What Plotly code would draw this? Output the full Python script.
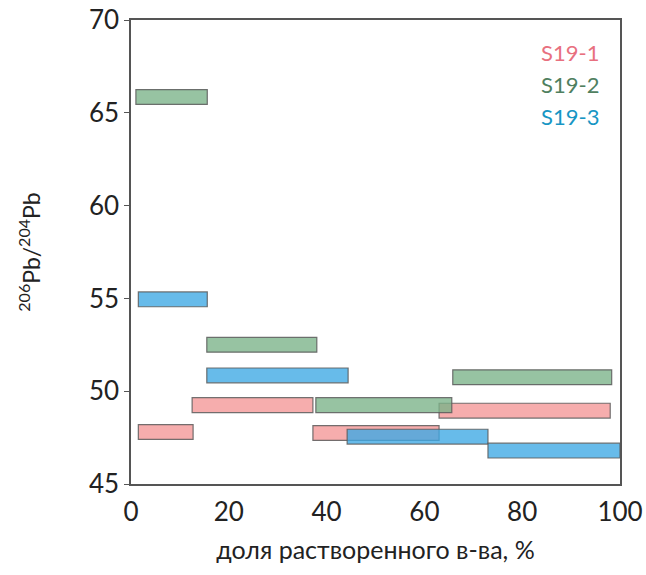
import plotly.graph_objects as go

# Data: each bar = interval of dissolved fraction (%) and 206Pb/204Pb value
series_names = ["S19-1", "S19-2", "S19-3"]
s1_start = [1.5, 12.5, 37.2, 63.0]
s1_end = [12.7, 37.2, 63.0, 98.0]
s1_val = [47.8, 49.25, 47.75, 48.95]

s2_start = [1.0, 15.5, 37.8, 65.8]
s2_end = [15.6, 38.0, 65.6, 98.3]
s2_val = [65.85, 52.5, 49.25, 50.75]

s3_start = [1.5, 15.5, 44.2, 73.0]
s3_end = [15.6, 44.4, 73.0, 100.0]
s3_val = [54.95, 50.85, 47.55, 46.8]

fills = ["rgba(244,150,150,0.78)", "rgba(122,178,136,0.78)", "rgba(60,168,228,0.78)"]
text_colors = ["#e8707f", "#4f8060", "#1896c4"]

fig = go.Figure()
for name, st, en, val, col in [
    (series_names[0], s1_start, s1_end, s1_val, fills[0]),
    (series_names[1], s2_start, s2_end, s2_val, fills[1]),
    (series_names[2], s3_start, s3_end, s3_val, fills[2]),
]:
    fig.add_trace(go.Bar(
        name=name,
        orientation="h",
        base=st,
        x=[e - s for s, e in zip(st, en)],
        y=val,
        width=0.8,
        marker=dict(color=col, line=dict(color="rgba(90,90,90,0.85)", width=1.2)),
        showlegend=False,
    ))

for i, (name, c) in enumerate(zip(series_names, text_colors)):
    fig.add_annotation(
        x=0.962, y=0.929 - i * 0.069, xref="paper", yref="paper",
        text=name, showarrow=False, xanchor="right", yanchor="middle",
        font=dict(family="Lato, Carlito, sans-serif", size=22, color=c),
    )

fig.update_layout(
    width=646, height=575,
    margin=dict(l=131, r=26, t=20, b=91),
    paper_bgcolor="white", plot_bgcolor="white",
    barmode="overlay",
    font=dict(family="Lato, Carlito, sans-serif", color="#222"),
)
fig.update_xaxes(
    range=[0, 100], tickvals=[0, 20, 40, 60, 80, 100],
    showgrid=False, zeroline=False, automargin=False,
    showline=True, linecolor="#555", linewidth=1.5, mirror=True,
    ticks="outside", ticklen=4, tickcolor="rgba(0,0,0,0)",
    tickfont=dict(size=26, color="#222"),
    title=dict(text="доля растворенного в-ва, %", font=dict(size=25, color="#222"), standoff=16),
)
fig.update_yaxes(
    range=[45, 70], tickvals=[45, 50, 55, 60, 65, 70],
    showgrid=False, zeroline=False, automargin=False,
    showline=True, linecolor="#555", linewidth=1.5, mirror=True,
    ticks="outside", ticklen=5, tickcolor="#555",
    tickfont=dict(size=26, color="#222"),
    title=dict(text="<sup>206</sup>Pb/<sup>204</sup>Pb", font=dict(size=23, color="#222"), standoff=42),
)

fig.write_html("out.html")
